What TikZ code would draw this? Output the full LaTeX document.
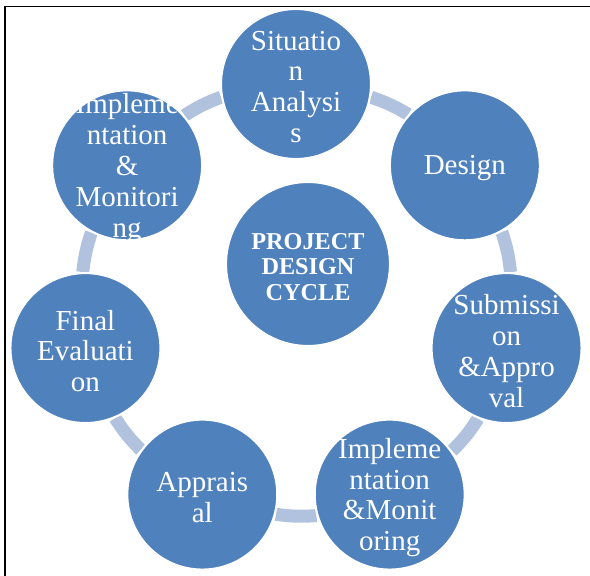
\documentclass[tikz,border=0pt]{standalone}
\usepackage{fontspec}
\setmainfont{Liberation Serif}
\usepackage{tikz}
\usetikzlibrary{backgrounds}
\usepackage{xcolor}
\definecolor{cycleblue}{RGB}{79,129,189}
\definecolor{cyclelink}{RGB}{176,194,222}

\tikzset{
  % the wording sits in a centre label, so the circle keeps its size
  stagetext/.style={text=white, align=center, inner sep=0pt, yshift=-0.06cm,
                    font=\fontsize{16.5}{17.6}\selectfont},
  hubtext/.style={stagetext, yshift=0pt,
                  font=\bfseries\fontsize{13.8}{14.5}\selectfont},
  stage/.style={circle, fill=cycleblue, draw=white, line width=1.2pt,
                minimum size=3cm, inner sep=0pt,
                label={[stagetext]center:#1}},
  hub/.style={stage, minimum size=3.28cm,
              label={[hubtext]center:#1}},
  link/.style={draw=cyclelink, line width=7.4pt}
}

\begin{document}
\begin{tikzpicture}
    \useasboundingbox (-5.92,-5.52) rectangle (5.88,6.0);
    % page frame
    \draw[line width=1.1pt] (-5.82,-5.52) -- (-5.82,5.87) -- (5.88,5.87);

    % stages of the cycle, 360/7 degrees apart on a ring of 4.32cm
    \node[stage={Situatio\\n\\Analysi\\s}] (sit) at (90:4.32) {};
    \node[stage={Design}] (des) at (38.57:4.32) {};
    \node[stage={Submissi\\on\\\&Appro\\val}] (sub) at (-12.86:4.32) {};
    \node[stage={Impleme\\ntation\\\&Monit\\oring}] (imb) at (-64.29:4.32) {};
    \node[stage={Apprais\\al}] (app) at (-115.71:4.32) {};
    \node[stage={Final\\Evaluati\\on}] (fin) at (-167.14:4.32) {};
    \node[stage={Impleme\\ntation\\\&\\Monitori\\ng}] (imt) at (141.43:4.32) {};

    \node[hub={PROJECT\\DESIGN\\CYCLE}] (hub) at (0.24,0.72) {};

    % short arc pieces on the ring between neighbours
    \begin{scope}[on background layer]
      \draw[link] (sit.-10)     to[bend left=6] (des.138.6);
      \draw[link] (des.-61.4)   to[bend left=6] (sub.87.1);
      \draw[link] (sub.-112.9)  to[bend left=6] (imb.35.7);
      \draw[link] (imb.-164.3)  to[bend left=6] (app.-15.7);
      \draw[link] (app.144.3)   to[bend left=6] (fin.-67.1);
      \draw[link] (fin.92.9)    to[bend left=6] (imt.-118.6);
      \draw[link] (imt.41.4)    to[bend left=6] (sit.190);
    \end{scope}
\end{tikzpicture}
\end{document}
